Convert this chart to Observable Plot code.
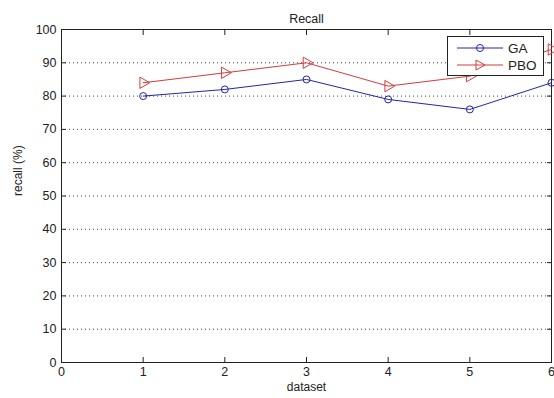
<!DOCTYPE html>
<html>
<head>
<meta charset="utf-8">
<script src="https://cdn.jsdelivr.net/npm/d3@7"></script>
<script src="https://cdn.jsdelivr.net/npm/@observablehq/plot@0.6"></script>
<style>
  body { margin: 0; background: #fff; }
  #wrap { position: relative; width: 554px; height: 398px; font-family: "Liberation Sans", Arial, sans-serif; }
  #legend { position: absolute; left: 447px; top: 36px; width: 97px; height: 40px; background: #fff; border: 1px solid #222; box-sizing: border-box; }
  #legend svg { display: block; }
</style>
</head>
<body>
<div id="wrap"></div>
<script>
const datasets = [1, 2, 3, 4, 5, 6];
const gaRecall = [80, 82, 85, 79, 76, 84];
const pboRecall = [84, 87, 90, 83, 86, 94];
const seriesNames = ["GA", "PBO"];
const seriesColors = ["#2424a8", "#d23c3c"];
const xTicks = [0, 1, 2, 3, 4, 5, 6];
const yTicks = [0, 10, 20, 30, 40, 50, 60, 70, 80, 90, 100];

const rows = [];
datasets.forEach((d, i) => {
  rows.push({dataset: d, recall: gaRecall[i], series: seriesNames[0]});
  rows.push({dataset: d, recall: pboRecall[i], series: seriesNames[1]});
});
const ga = rows.filter(r => r.series === "GA");
const pbo = rows.filter(r => r.series === "PBO");

const font = "Liberation Sans, Arial, sans-serif";
const chart = Plot.plot({
  width: 554,
  height: 398,
  marginLeft: 61,
  marginRight: 3,
  marginTop: 29,
  marginBottom: 36,
  style: {fontFamily: font, fontSize: "12px", color: "#222", background: "#fff"},
  x: {domain: [0, 6]},
  y: {domain: [0, 100]},
  marks: [
    Plot.gridY(yTicks.slice(1, -1), {stroke: "#000", strokeOpacity: 0.75, strokeDasharray: "1,3"}),
    Plot.axisX(xTicks, {anchor: "bottom", tickSize: -5, tickPadding: 10, label: null, fontSize: 12.5}),
    Plot.axisX(xTicks, {anchor: "top", tickSize: -5, tickFormat: () => "", label: null}),
    Plot.axisY(yTicks, {anchor: "left", tickSize: -5, tickPadding: 10, label: null, fontSize: 12.5}),
    Plot.axisY(yTicks, {anchor: "right", tickSize: -5, tickFormat: () => "", label: null}),
    Plot.frame({stroke: "#222"}),
    Plot.line(ga, {x: "dataset", y: "recall", stroke: seriesColors[0], strokeWidth: 1}),
    Plot.line(pbo, {x: "dataset", y: "recall", stroke: seriesColors[1], strokeWidth: 1}),
    Plot.dot(ga, {x: "dataset", y: "recall", r: 3.5, stroke: seriesColors[0], fill: "none", strokeWidth: 1}),
    Plot.dot(pbo, {x: "dataset", y: "recall", symbol: "triangle", rotate: 90, r: 4.2, stroke: seriesColors[1], fill: "none", strokeWidth: 1}),
    Plot.text(["Recall"], {frameAnchor: "top", dy: -15, fontSize: 12.5, fill: "#222", letterSpacing: "0.8px"}),
    Plot.text(["dataset"], {frameAnchor: "bottom", dy: 28.5, fontSize: 12, fill: "#222"}),
    Plot.text(["recall (%)"], {frameAnchor: "left", dx: -43, rotate: -90, fontSize: 12, fill: "#222"})
  ]
});
document.getElementById("wrap").appendChild(chart);

// legend overlay
const legend = document.createElement("div");
legend.id = "legend";
const ns = "http://www.w3.org/2000/svg";
const svg = document.createElementNS(ns, "svg");
svg.setAttribute("width", 95);
svg.setAttribute("height", 38);
seriesNames.forEach((name, i) => {
  const y = 11 + i * 17;
  const line = document.createElementNS(ns, "line");
  line.setAttribute("x1", 9); line.setAttribute("x2", 55);
  line.setAttribute("y1", y); line.setAttribute("y2", y);
  line.setAttribute("stroke", seriesColors[i]);
  svg.appendChild(line);
  let m;
  if (i === 0) {
    m = document.createElementNS(ns, "circle");
    m.setAttribute("cx", 32); m.setAttribute("cy", y); m.setAttribute("r", 3.5);
  } else {
    m = document.createElementNS(ns, "path");
    m.setAttribute("d", `M${28},${y - 5}L${37},${y}L${28},${y + 5}Z`);
  }
  m.setAttribute("fill", "none");
  m.setAttribute("stroke", seriesColors[i]);
  svg.appendChild(m);
  const t = document.createElementNS(ns, "text");
  t.setAttribute("x", 60); t.setAttribute("y", y + 5);
  t.setAttribute("font-size", 13.5);
  t.setAttribute("font-family", font);
  t.setAttribute("fill", "#222");
  t.textContent = name;
  svg.appendChild(t);
});
legend.appendChild(svg);
document.getElementById("wrap").appendChild(legend);
</script>
</body>
</html>
